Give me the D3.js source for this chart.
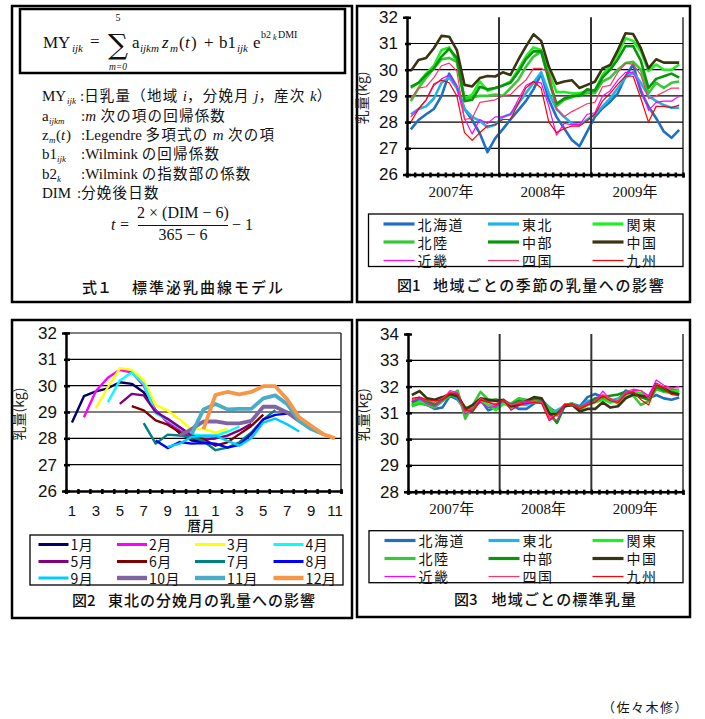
<!DOCTYPE html>
<html><head><meta charset="utf-8">
<script src="https://cdn.jsdelivr.net/npm/d3@7"></script>
<style>body{margin:0;background:#fff}svg{display:block}</style>
</head><body>
<svg id="c" width="705" height="719"></svg>
<script>
// ---------------- DATA ----------------
const regions = ["北海道","東北","関東","北陸","中部","中国","近畿","四国","九州"];
const years = ["2007年","2008年","2009年"];
// Fig.1 seasonal effect (kg), Jan 2007 .. Dec 2009
const f1Hokkaido = [27.72,28.08,28.3,28.5,29.0,29.85,29.35,28.5,28.08,27.57,26.85,27.38, 27.73,28.1,28.45,28.8,29.25,29.85,28.85,28.2,27.76,27.32,27.08,27.64, 28.2,28.53,28.78,29.1,29.74,30.2,29.16,28.59,28.15,27.64,27.4,27.7];
const f1Tohoku   = [28.3,28.5,28.6,28.9,29.5,29.7,29.3,28.5,28.2,28.05,27.8,27.9, 28.2,28.3,28.7,29.1,29.5,29.9,29.1,28.5,28.2,27.95,27.9,28.1, 28.3,28.6,28.9,29.3,29.7,29.9,29.5,29.0,28.8,28.65,28.55,28.55];
const f1Kanto    = [29.3,29.5,29.85,30.15,30.75,30.85,30.3,28.9,29.05,29.55,29.2,29.3, 29.4,29.55,30.0,30.5,30.85,30.75,29.9,29.15,29.15,29.1,29.1,29.2, 29.2,29.8,30.15,30.6,31.2,31.1,30.7,29.95,30.2,30.0,30.0,30.2];
const f1Hokuriku = [28.8,29.3,29.7,30.05,30.4,30.45,30.3,28.9,28.95,29.0,29.0,29.05, 29.0,29.3,29.6,30.1,30.5,30.7,29.6,28.6,28.85,28.95,29.05,29.1, 29.1,29.55,29.7,30.0,30.25,30.3,30.0,29.1,29.5,29.3,29.5,29.55];
const f1Chubu    = [29.35,29.5,29.8,30.05,30.5,30.8,30.45,28.8,28.85,29.35,29.25,29.3, 29.4,29.5,29.9,30.4,30.7,30.7,29.65,28.7,28.9,29.0,29.0,29.25, 29.2,29.7,30.0,30.4,30.9,30.9,30.35,29.3,29.65,29.75,29.85,29.7];
const f1Chugoku  = [29.95,30.37,30.45,30.82,31.29,31.26,30.75,29.42,29.36,29.68,29.76,29.74, 29.9,29.8,30.37,30.88,31.35,31.1,30.12,29.46,29.55,29.6,29.3,29.42, 29.54,30.05,30.18,30.75,31.39,31.36,30.82,30.05,30.4,30.27,30.27,30.27];
const f1Kinki    = [28.2,28.5,28.85,29.4,29.65,29.8,29.35,28.15,27.55,28.1,27.95,28.2, 28.2,28.3,28.85,29.4,29.55,29.5,28.6,27.5,27.95,27.9,27.9,28.3, 28.35,29.0,29.2,29.6,29.9,29.9,29.3,28.45,28.75,28.8,28.8,29.0];
const f1Shikoku  = [28.9,29.3,29.35,29.7,30.15,30.25,29.95,28.1,28.15,28.75,28.8,28.85, 29.0,29.05,29.35,29.6,30.05,30.05,29.9,28.5,28.2,28.4,28.55,28.7, 28.75,29.35,29.4,29.9,30.25,30.2,29.8,28.9,29.0,29.15,29.3,29.3];
const f1Kyushu   = [28.0,28.5,28.85,29.45,29.6,29.5,29.0,27.6,27.3,27.6,27.85,27.9, 28.1,28.1,28.7,29.3,29.55,29.3,28.0,27.6,27.75,27.85,27.85,28.05, 28.3,28.8,29.1,29.45,29.75,29.75,28.9,28.0,28.6,28.6,28.55,28.65];
// Fig.3 standard milk yield (kg)
const f3Hokkaido = [31.45,31.4,31.3,31.15,31.2,31.65,31.5,31.1,31.2,31.5,31.1,31.2, 31.4,31.3,31.15,31.15,31.35,31.5,31.2,31.0,31.3,31.35,31.25,31.6, 31.72,31.6,31.4,31.5,31.85,31.7,31.6,31.55,31.68,31.55,31.5,31.58];
const f3Tohoku   = [31.3,31.45,31.35,31.25,31.45,31.7,31.55,31.05,31.25,31.5,31.3,31.25, 31.4,31.2,31.3,31.3,31.45,31.45,31.0,31.1,31.25,31.35,31.2,31.45, 31.5,31.55,31.45,31.55,31.7,31.8,31.7,31.5,31.95,31.9,31.85,31.8];
const f3Kanto    = [31.3,31.4,31.4,31.3,31.5,31.7,31.75,31.0,31.15,31.45,31.3,31.1, 31.35,31.25,31.4,31.45,31.4,31.4,31.1,30.95,31.3,31.35,31.1,31.3, 31.4,31.5,31.4,31.5,31.7,31.8,31.75,31.55,31.95,31.85,31.9,31.8];
const f3Hokuriku = [31.25,31.35,31.3,31.2,31.45,31.65,31.85,30.78,31.3,31.8,31.5,31.5, 31.45,31.35,31.55,31.5,31.45,31.45,31.2,30.9,31.3,31.3,31.15,31.3, 31.45,31.55,31.5,31.35,31.6,31.65,31.3,31.45,31.9,31.8,31.75,31.7];
const f3Chubu    = [31.4,31.55,31.45,31.3,31.5,31.7,31.6,31.2,31.1,31.5,31.45,31.5, 31.45,31.3,31.45,31.4,31.55,31.5,31.0,30.62,31.25,31.3,31.2,31.35, 31.55,31.6,31.65,31.7,31.8,31.75,31.6,31.5,32.0,31.85,31.8,31.7];
const f3Chugoku  = [31.68,31.83,31.55,31.5,31.6,31.72,31.65,31.15,31.3,31.55,31.5,31.45, 31.5,31.25,31.3,31.45,31.6,31.55,30.95,30.95,31.25,31.3,31.05,31.15, 31.15,31.4,31.2,31.25,31.55,31.7,31.65,31.6,32.1,31.95,31.75,31.7];
const f3Kinki    = [31.45,31.55,31.35,31.25,31.5,31.85,31.75,30.95,31.15,31.4,31.2,31.25, 31.45,31.3,31.35,31.4,31.4,31.45,30.8,30.72,31.3,31.3,31.15,31.4, 31.45,31.83,31.5,31.45,31.75,31.85,31.85,31.65,32.25,32.05,31.95,32.0];
const f3Shikoku  = [31.5,31.6,31.45,31.4,31.55,31.8,31.7,31.05,31.2,31.55,31.4,31.35, 31.5,31.3,31.4,31.45,31.45,31.4,30.85,30.9,31.35,31.3,31.2,31.35, 31.4,31.7,31.55,31.45,31.8,31.9,31.85,31.55,32.1,32.0,31.9,31.9];
const f3Kyushu   = [31.55,31.6,31.5,31.45,31.5,31.75,31.7,31.1,31.05,31.5,31.4,31.3, 31.5,31.1,31.3,31.35,31.4,31.35,30.7,30.95,31.3,31.35,31.15,31.3, 31.4,31.65,31.45,31.4,31.7,31.8,31.5,31.3,32.05,31.95,31.7,31.65];
// Fig.2 Tohoku, by calving month (12 monthly values from the calving month)
const calvingMonths = ["1月","2月","3月","4月","5月","6月","7月","8月","9月","10月","11月","12月"];
const calendarLabels = ["1","2","3","4","5","6","7","8","9","10","11","12","1","2","3","4","5","6","7","8","9","10","11"];
const f2Jan = [28.6,29.6,29.78,29.9,30.13,30.07,29.75,29.06,28.62,28.2,27.92,27.88];
const f2Feb = [28.8,29.8,30.3,30.6,30.5,30.0,29.05,28.62,28.3,28.05,28.0,27.98];
const f2Mar = [29.15,29.94,30.66,30.6,30.2,29.27,29.06,28.72,28.34,28.36,28.22,28.36];
const f2Apr = [29.37,30.2,30.5,30.07,28.95,28.7,28.4,28.15,28.1,28.1,28.25,28.45];
const f2May = [29.31,29.69,29.63,29.0,28.74,28.43,28.11,27.95,28.0,28.1,28.3,28.55];
const f2Jun = [29.22,29.06,28.68,28.52,28.24,27.99,27.97,27.72,27.85,28.16,28.47,28.9];
const f2Jul = [28.58,27.8,28.14,28.11,28.05,27.9,27.55,27.65,27.85,28.22,28.72,29.07];
const f2Aug = [27.92,27.63,27.86,27.8,27.82,27.8,27.65,27.75,28.16,28.72,28.89,28.94];
const f2Sep = [27.67,27.8,28.05,28.1,28.1,27.9,27.72,28.0,28.6,28.75,28.53,28.26];
const f2Oct = [28.1,28.35,28.64,28.64,28.57,28.57,28.66,29.2,29.2,28.98,28.66,28.4];
const f2Nov = [28.15,29.1,29.3,29.1,29.12,29.12,29.52,29.63,29.3,28.66,28.35,28.16];
const f2Dec = [28.35,29.65,29.76,29.67,29.76,29.98,29.98,29.48,28.8,28.48,28.16,28.0];

// ---------------- STYLES ----------------
const regionColors = ["#1f70c2","#1eb2ee","#1ef01e","#35c935","#0a960a","#3a3412","#ff00ff","#ff3366","#ff0000"];
const regionWidths = [2.6,2.6,2.6,2.6,2.6,2.6,1.2,1.2,1.2];
const monthColors = ["#000066","#ff00ff","#ffff00","#00ffff","#800080","#800000","#008080","#0000ff","#00ccff","#8064a2","#4bacc6","#f79646"];
const monthWidths = [2.4,2.4,2.4,2.4,2.4,2.4,2.4,2.4,2.4,3.8,3.8,3.8];
const JP = "'Noto Sans CJK JP','Noto Sans',sans-serif";
const SERIF = "'Liberation Serif','DejaVu Serif',serif";
const SANS = "'Liberation Sans',Arial,sans-serif";

const f1 = [f1Hokkaido,f1Tohoku,f1Kanto,f1Hokuriku,f1Chubu,f1Chugoku,f1Kinki,f1Shikoku,f1Kyushu];
const f3 = [f3Hokkaido,f3Tohoku,f3Kanto,f3Hokuriku,f3Chubu,f3Chugoku,f3Kinki,f3Shikoku,f3Kyushu];
const f2 = [f2Jan,f2Feb,f2Mar,f2Apr,f2May,f2Jun,f2Jul,f2Aug,f2Sep,f2Oct,f2Nov,f2Dec];

const svg = d3.select("#c");

// ---------------- PANEL FRAMES ----------------
[[12,6,352,302],[357,6,690,302],[12,320,352,618],[357,320,690,617]].forEach(p=>{
  svg.append("rect").attr("x",p[0]).attr("y",p[1]).attr("width",p[2]-p[0]).attr("height",p[3]-p[1])
    .attr("fill","none").attr("stroke","#000").attr("stroke-width",2.5);
});

// ---------------- FORMULA PANEL ----------------
svg.append("rect").attr("x",20).attr("y",9).attr("width",325).attr("height",64)
  .attr("fill","none").attr("stroke","#000").attr("stroke-width",2.5);
function t(x,y,str,opt={}){
  const e = svg.append("text").attr("x",x).attr("y",y).text(str)
    .attr("font-family",opt.ff||SERIF).attr("font-size",opt.fs||15)
    .attr("fill","#111");
  if(opt.it) e.attr("font-style","italic");
  if(opt.anchor) e.attr("text-anchor",opt.anchor);
  if(opt.ls) e.attr("letter-spacing",opt.ls);
  if(opt.fw) e.attr("font-weight",opt.fw);
  return e;
}
// main formula
t(43,48,"MY",{fs:17});
t(72,52,"ijk",{fs:11,it:1});
t(90,47,"=",{fs:17});
t(118,54,"∑",{fs:28,anchor:"middle",ff:"'DejaVu Serif',serif"});
t(118,21,"5",{fs:10,anchor:"middle"});
t(118,70,"m=0",{fs:9.5,anchor:"middle",it:1});
t(132,48,"a",{fs:17});
t(140,52,"ijkm",{fs:11,it:1});
t(162,48,"z",{fs:17,it:1});
t(170,52,"m",{fs:11,it:1});
t(179,48,"(",{fs:17});
t(185,48,"t",{fs:17,it:1});
t(191,48,")",{fs:17});
t(204,48,"+",{fs:17});
t(219,48,"b1",{fs:17});
t(237,52,"ijk",{fs:11,it:1});
t(253,48,"e",{fs:17});
t(261,38,"b2",{fs:10});
t(273,40,"k",{fs:8,it:1});
t(278,38,"DMI",{fs:10});

// definitions
function row(y, labelParts, colonX, descParts){
  labelParts.forEach(p=>{
    t(p.x, y + (p.sub?3:0), p.s, {fs:p.sub?9:15, it:p.it});
  });
  const e = svg.append("text").attr("x",colonX).attr("y",y).attr("fill","#111").attr("font-size",14.5);
  descParts.forEach(p=>{
    e.append("tspan").text(p.s).attr("font-family",p.jp?JP:SERIF)
      .attr("font-style",p.it?"italic":"normal").attr("font-size",p.jp?14.5:15)
      .attr("letter-spacing",p.jp?1.2:0);
  });
}
row(101,[{x:42,s:"MY"},{x:67,s:"ijk",sub:1,it:1}],80,
  [{s:":"},{s:"日乳量（地域 ",jp:1},{s:"i",it:1},{s:"，分娩月 ",jp:1},{s:"j",it:1},{s:"，産次 ",jp:1},{s:"k",it:1},{s:"）",jp:1}]);
row(121,[{x:42,s:"a"},{x:49,s:"ijkm",sub:1,it:1}],81,
  [{s:":"},{s:"m",it:1},{s:" 次の項の回帰係数",jp:1}]);
row(140,[{x:42,s:"z"},{x:49,s:"m",sub:1,it:1},{x:56,s:"("},{x:61,s:"t",it:1},{x:66,s:")"}],81,
  [{s:":Legendre "},{s:"多項式の ",jp:1},{s:"m",it:1},{s:" 次の項",jp:1}]);
row(159,[{x:42,s:"b1"},{x:57,s:"ijk",sub:1,it:1}],81,
  [{s:":Wilmink "},{s:"の回帰係数",jp:1}]);
row(179,[{x:42,s:"b2"},{x:57,s:"k",sub:1,it:1}],81,
  [{s:":Wilmink "},{s:"の指数部の係数",jp:1}]);
row(198,[{x:42,s:"DIM"}],77,
  [{s:":"},{s:"分娩後日数",jp:1}]);
// t = fraction
t(111,230,"t",{fs:16,it:1});
t(120,230,"=",{fs:16});
t(183,218,"2 × (DIM − 6)",{fs:16,anchor:"middle"});
svg.append("line").attr("x1",138).attr("x2",228).attr("y1",225.5).attr("y2",225.5).attr("stroke","#111").attr("stroke-width",1);
t(183,240,"365 − 6",{fs:16,anchor:"middle"});
t(232,230,"− 1",{fs:16});
// caption
t(82,293,"式１",{ff:JP,fs:15,fw:500});
t(132,293,"標準泌乳曲線モデル",{ff:JP,fs:15,fw:500,ls:2});

// ---------------- REGION CHART (Fig1 / Fig3) ----------------
function regionChart(cfg){
  const g = svg.append("g");
  const x = d3.scaleBand().domain(d3.range(36)).range([cfg.l,cfg.r]);
  const xb = d3.scaleLinear().domain([0,36]).range([cfg.l,cfg.r]);
  const xy = d3.scaleBand().domain(years).range([cfg.l,cfg.r]);
  const y = d3.scaleLinear().domain([cfg.ymin,cfg.ymax]).range([cfg.b,cfg.t]);
  // grid
  g.selectAll(".gl").data(d3.range(cfg.ymin+1,cfg.ymax)).enter().append("line")
    .attr("x1",cfg.l).attr("x2",cfg.r).attr("y1",d=>y(d)).attr("y2",d=>y(d))
    .attr("stroke","#000").attr("stroke-width",1.2);
  g.append("line").attr("x1",cfg.r).attr("x2",cfg.r).attr("y1",cfg.t).attr("y2",cfg.b).attr("stroke","#000").attr("stroke-width",1.2);
  // series
  const line = d3.line().x((d,i)=>x(i)+x.bandwidth()/2).y(d=>y(d));
  cfg.data.forEach((s,k)=>{
    g.append("path").attr("d",line(s)).attr("fill","none").attr("stroke",regionColors[k])
      .attr("stroke-width",regionWidths[k]).attr("stroke-linejoin","round");
  });
  // year separators
  [12,24].forEach(v=>{
    g.append("line").attr("x1",xb(v)).attr("x2",xb(v)).attr("y1",cfg.t).attr("y2",cfg.b)
      .attr("stroke","#333").attr("stroke-width",2);
  });
  // axes
  const ya = g.append("g").attr("transform",`translate(${cfg.l},0)`)
    .call(d3.axisLeft(y).tickValues(d3.range(cfg.ymin,cfg.ymax+1)).tickSize(4).tickPadding(5).tickFormat(d3.format("d")));
  ya.select(".domain").attr("stroke-width",2.5);
  ya.selectAll(".tick line").attr("stroke-width",2.5).attr("x2",4).attr("x1",-2);
  ya.selectAll("text").attr("font-family",SANS).attr("font-size",17).attr("fill","#111");
  const xa = g.append("g").attr("transform",`translate(0,${cfg.b})`)
    .call(d3.axisBottom(xb).tickValues(d3.range(0,37)).tickSize(3).tickFormat(""));
  xa.select(".domain").attr("stroke-width",2.5);
  xa.selectAll(".tick line").attr("stroke-width",2.5).attr("y1",-2);
  // year labels
  g.selectAll(".yr").data(years).enter().append("text")
    .attr("x",d=>xy(d)+xy.bandwidth()/2-2).attr("y",cfg.b+22).attr("text-anchor","middle")
    .attr("font-family",`'Liberation Serif',${JP}`).attr("font-size",15).attr("fill","#111").text(d=>d);
  // y title
  g.append("text").attr("transform",`translate(${cfg.l-40},${(cfg.t+cfg.b)/2+2}) rotate(-90)`)
    .attr("text-anchor","middle").attr("font-family",JP).attr("font-size",14).attr("fill","#222").text("乳量(kg)");
  // legend
  const L = cfg.leg;
  g.append("rect").attr("x",L.x0).attr("y",L.y0).attr("width",L.x1-L.x0).attr("height",L.y1-L.y0)
    .attr("fill","none").attr("stroke","#000").attr("stroke-width",1.3);
  regions.forEach((r,k)=>{
    const c = k%3, rw = Math.floor(k/3);
    const lx = L.cols[c], ly = L.rows[rw];
    g.append("line").attr("x1",lx).attr("x2",lx+31).attr("y1",ly).attr("y2",ly)
      .attr("stroke",regionColors[k]).attr("stroke-width",regionWidths[k]===1.2?1.2:3.2);
    g.append("text").attr("x",lx+34).attr("y",ly+5.5).attr("font-family",JP).attr("font-size",14)
      .attr("letter-spacing",1.5).attr("fill","#111").text(r);
  });
}
regionChart({l:407,r:683,t:17.3,b:174.5,ymin:26,ymax:32,data:f1,
  leg:{x0:368.5,x1:683,y0:214,y1:266.5,cols:[383.5,488,592.5],rows:[224,242,260.5]}});
t(397,291,"図1",{ff:JP,fs:15,fw:500});
t(433,291,"地域ごとの季節の乳量への影響",{ff:JP,fs:15,fw:500,ls:1.6});

regionChart({l:408,r:683,t:334,b:491.7,ymin:28,ymax:34,data:f3,
  leg:{x0:369,x1:683,y0:530.7,y1:582.7,cols:[384.5,488.5,592.5],rows:[540.5,558.5,576.5]}});
t(454,605,"図3",{ff:JP,fs:15,fw:500});
t(491.5,605,"地域ごとの標準乳量",{ff:JP,fs:15,fw:500,ls:1.2});

// ---------------- FIG 2 ----------------
(function(){
  const cfg = {l:66,r:341,t:333,b:491};
  const g = svg.append("g");
  const x = d3.scaleBand().domain(d3.range(calendarLabels.length)).range([cfg.l,cfg.r]);
  const xb = d3.scaleLinear().domain([0,calendarLabels.length]).range([cfg.l,cfg.r]);
  const y = d3.scaleLinear().domain([26,32]).range([cfg.b,cfg.t]);
  g.selectAll(".gl").data(d3.range(27,33)).enter().append("line")
    .attr("x1",cfg.l).attr("x2",cfg.r).attr("y1",d=>y(d)).attr("y2",d=>y(d))
    .attr("stroke","#000").attr("stroke-width",1.2);
  g.append("line").attr("x1",cfg.r).attr("x2",cfg.r).attr("y1",cfg.t).attr("y2",cfg.b).attr("stroke","#000").attr("stroke-width",1.2);
  f2.forEach((s,m)=>{
    const line = d3.line().x((d,i)=>x(m+i)+x.bandwidth()/2).y(d=>y(d));
    g.append("path").attr("d",line(s)).attr("fill","none").attr("stroke",monthColors[m])
      .attr("stroke-width",monthWidths[m]).attr("stroke-linejoin","round");
  });
  const ya = g.append("g").attr("transform",`translate(${cfg.l},0)`)
    .call(d3.axisLeft(y).tickValues(d3.range(26,33)).tickSize(4).tickPadding(5).tickFormat(d3.format("d")));
  ya.select(".domain").attr("stroke-width",2.5);
  ya.selectAll(".tick line").attr("stroke-width",2.5).attr("x2",4).attr("x1",-2);
  ya.selectAll("text").attr("font-family",SANS).attr("font-size",17).attr("fill","#111");
  const xa = g.append("g").attr("transform",`translate(0,${cfg.b})`)
    .call(d3.axisBottom(xb).tickValues(d3.range(0,calendarLabels.length+1)).tickSize(3).tickFormat(""));
  xa.select(".domain").attr("stroke-width",2.5);
  xa.selectAll(".tick line").attr("stroke-width",2.5).attr("y1",-2);
  const xl = g.append("g").attr("transform",`translate(0,${cfg.b})`)
    .call(d3.axisBottom(x).tickValues(d3.range(0,calendarLabels.length,2)).tickSize(0).tickPadding(14).tickFormat(i=>calendarLabels[i]));
  xl.select(".domain").remove();
  xl.selectAll("text").attr("font-family",SANS).attr("font-size",15).attr("fill","#111");
  g.append("text").attr("x",201).attr("y",531).attr("text-anchor","middle").attr("font-family",JP)
    .attr("font-size",13.5).attr("font-weight",500).attr("fill","#111").text("暦月");
  g.append("text").attr("transform",`translate(24,${(cfg.t+cfg.b)/2+2}) rotate(-90)`)
    .attr("text-anchor","middle").attr("font-family",JP).attr("font-size",14).attr("fill","#222").text("乳量(kg)");
  // legend
  g.append("rect").attr("x",30).attr("y",535).attr("width",313).attr("height",50)
    .attr("fill","none").attr("stroke","#000").attr("stroke-width",1.3);
  const cols=[38.5,117,195,273.5], rows=[544.5,561.5,578];
  calvingMonths.forEach((mname,m)=>{
    const lx=cols[m%4], ly=rows[Math.floor(m/4)];
    g.append("line").attr("x1",lx).attr("x2",lx+30).attr("y1",ly).attr("y2",ly)
      .attr("stroke",monthColors[m]).attr("stroke-width",monthWidths[m]+0.6);
    g.append("text").attr("x",lx+32).attr("y",ly+5.5).attr("font-family",JP).attr("font-size",14)
      .attr("letter-spacing",0.5).attr("fill","#111").text(mname);
  });
})();
t(72,606,"図2",{ff:JP,fs:15,fw:500});
t(108,606,"東北の分娩月の乳量への影響",{ff:JP,fs:15,fw:500,ls:1});

// credit
t(602,712,"（佐々木修）",{ff:JP,fs:13,ls:1.5});
</script>
</body></html>
